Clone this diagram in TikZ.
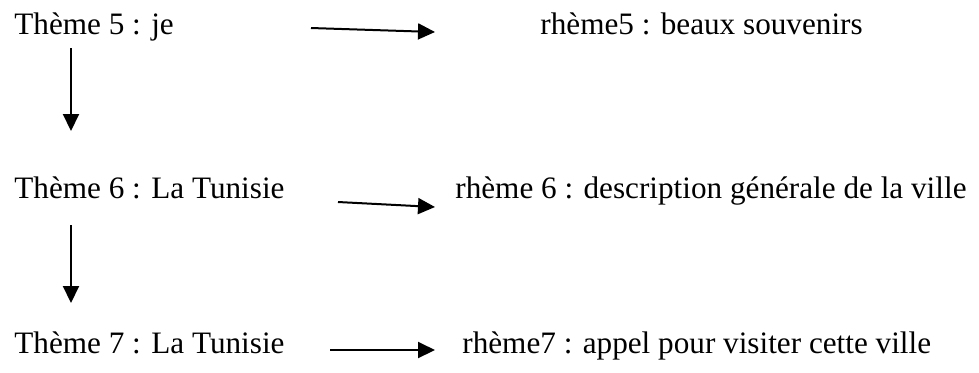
\documentclass[tikz,border=0pt]{standalone}
\usepackage{fontspec}
\setmainfont{Liberation Serif}
\usetikzlibrary{arrows.meta}
\begin{document}
\begin{tikzpicture}[x=0.5pt,y=-0.5pt,
  label text/.style={anchor=base west,inner sep=0pt,font=\fontsize{15.6pt}{18pt}\selectfont},
  link/.style={line width=1pt,-{Triangle[length=8.5pt,width=8pt]}}]
  \useasboundingbox (0,0) rectangle (979,372);

  % themes (left column)
  \node[label text] (t5) at (14,34)  {Thème 5 : je};
  \node[label text] (t6) at (14,198) {Thème 6 : La Tunisie};
  \node[label text] (t7) at (14,353) {Thème 7 : La Tunisie};

  % rhemes (right column)
  \node[label text] (r5) at (540,34)  {rhème5 : beaux souvenirs};
  \node[label text] (r6) at (455,198) {rhème 6 : description générale de la ville};
  \node[label text] (r7) at (462,353) {rhème7 : appel pour visiter cette ville};

  % arrow end points
  \coordinate (h5a) at (311,28);  \coordinate (h5b) at (435,32);
  \coordinate (h6a) at (338,202); \coordinate (h6b) at (435,207);
  \coordinate (h7a) at (330,350); \coordinate (h7b) at (435,350);
  \coordinate (v5a) at (71,48);   \coordinate (v5b) at (71,131);
  \coordinate (v6a) at (71,225);  \coordinate (v6b) at (71,303);

  % theme -> rheme
  \draw[link] (h5a) -- (h5b);
  \draw[link] (h6a) -- (h6b);
  \draw[link] (h7a) -- (h7b);

  % thematic progression
  \draw[link] (v5a) -- (v5b);
  \draw[link] (v6a) -- (v6b);
\end{tikzpicture}
\end{document}
